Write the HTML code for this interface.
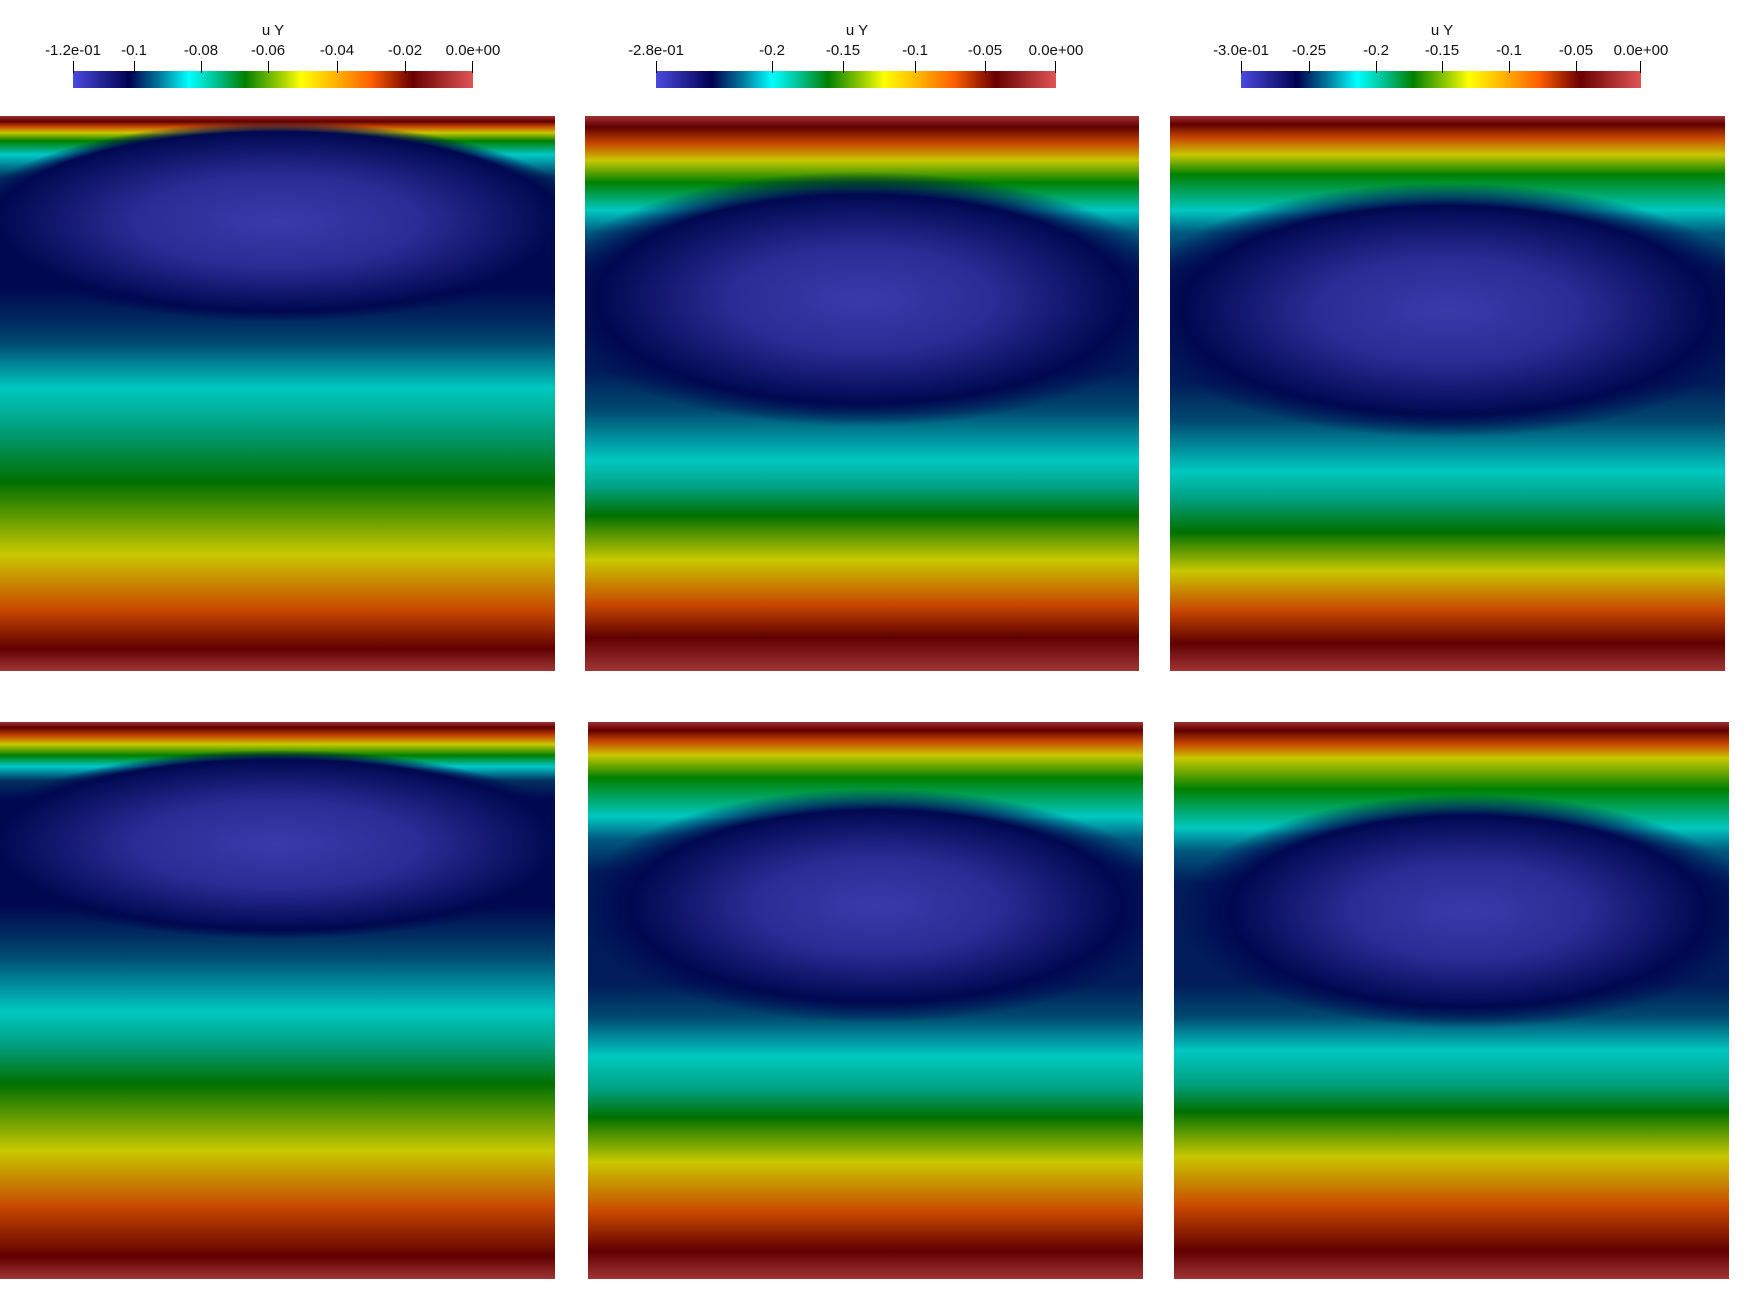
<!DOCTYPE html>
<html><head><meta charset="utf-8"><style>
html,body{margin:0;padding:0;background:#fff;}
body{width:1749px;height:1296px;position:relative;overflow:hidden;font-family:"Liberation Sans",sans-serif;}
.p{position:absolute;}
.cb{position:absolute;top:71px;height:17px;background:linear-gradient(to right,#4a4ae0 0%,#000050 14%,#0080a0 22%,#00ffff 29%,#00c8a0 35%,#008000 43%,#a0d000 52%,#ffff00 57%,#ffb000 66%,#ff6000 74.5%,#a02000 81%,#6a0000 85%,#e05555 100%);}
.t{position:absolute;font-size:15px;color:#111;transform:translateX(-50%);white-space:nowrap;}
.tk{position:absolute;top:61px;width:1px;height:12px;background:#000;}
.ov{position:absolute;inset:0;}
</style></head><body>

<div class="t" style="left:273px;top:22px">u Y</div>
<div class="cb" style="left:73px;width:400px"></div>
<div class="t" style="left:73px;top:42px">-1.2e-01</div>
<div class="t" style="left:134px;top:42px">-0.1</div>
<div class="t" style="left:201px;top:42px">-0.08</div>
<div class="t" style="left:268px;top:42px">-0.06</div>
<div class="t" style="left:337px;top:42px">-0.04</div>
<div class="t" style="left:405px;top:42px">-0.02</div>
<div class="t" style="left:473px;top:42px">0.0e+00</div>
<div class="tk" style="left:73px"></div><div class="tk" style="left:134px"></div><div class="tk" style="left:201px"></div><div class="tk" style="left:268px"></div><div class="tk" style="left:337px"></div><div class="tk" style="left:405px"></div><div class="tk" style="left:472px"></div>

<div class="t" style="left:857px;top:22px">u Y</div>
<div class="cb" style="left:656px;width:400px"></div>
<div class="t" style="left:656px;top:42px">-2.8e-01</div>
<div class="t" style="left:772px;top:42px">-0.2</div>
<div class="t" style="left:843px;top:42px">-0.15</div>
<div class="t" style="left:915px;top:42px">-0.1</div>
<div class="t" style="left:985px;top:42px">-0.05</div>
<div class="t" style="left:1056px;top:42px">0.0e+00</div>
<div class="tk" style="left:656px"></div><div class="tk" style="left:772px"></div><div class="tk" style="left:843px"></div><div class="tk" style="left:915px"></div><div class="tk" style="left:985px"></div><div class="tk" style="left:1055px"></div>

<div class="t" style="left:1442px;top:22px">u Y</div>
<div class="cb" style="left:1241px;width:400px"></div>
<div class="t" style="left:1241px;top:42px">-3.0e-01</div>
<div class="t" style="left:1309px;top:42px">-0.25</div>
<div class="t" style="left:1376px;top:42px">-0.2</div>
<div class="t" style="left:1442px;top:42px">-0.15</div>
<div class="t" style="left:1509px;top:42px">-0.1</div>
<div class="t" style="left:1576px;top:42px">-0.05</div>
<div class="t" style="left:1641px;top:42px">0.0e+00</div>
<div class="tk" style="left:1241px"></div><div class="tk" style="left:1309px"></div><div class="tk" style="left:1376px"></div><div class="tk" style="left:1442px"></div><div class="tk" style="left:1509px"></div><div class="tk" style="left:1576px"></div><div class="tk" style="left:1640px"></div>

<!-- TL -->
<div class="p" style="left:0;top:116px;width:555px;height:555px;background:linear-gradient(to bottom,#a03030 0%,#600000 1%,#d05000 2%,#c8c800 3%,#008000 4.5%,#00c8c8 7%,#003060 11%,#000850 16%,#000850 31%,#002a60 37%,#004a70 41%,#00c8c0 49%,#00a080 56%,#007000 66%,#c8c800 79%,#c84800 89%,#600000 96%,#a03535 100%);">
<div class="ov" style="background:radial-gradient(ellipse 56% 18% at 50% 19%,#3a3aaa 0%,#2c2c96 45%,#000850 90%,rgba(0,8,80,0) 100%);"></div></div>

<!-- TM -->
<div class="p" style="left:585px;top:116px;width:554px;height:555px;background:linear-gradient(to bottom,#a03030 0%,#600000 2%,#c84800 5%,#c8c800 8%,#008000 12%,#00c8c0 17%,#005a80 21%,#001c5a 28%,#001c5a 46%,#004a70 53%,#00c8c0 62%,#00a080 67%,#007000 72%,#c8c800 80%,#c84800 88%,#600000 94%,#a03535 100%);">
<div class="ov" style="background:radial-gradient(ellipse 58% 23% at 50% 33%,#3a3aaa 0%,#2c2c96 40%,#000850 82%,rgba(0,8,80,0) 100%);"></div></div>

<!-- TR -->
<div class="p" style="left:1170px;top:116px;width:555px;height:555px;background:linear-gradient(to bottom,#a03030 0%,#600000 1.5%,#c84800 4%,#c8c800 7%,#008000 10.5%,#00c8c0 17%,#005a80 21%,#001c5a 28%,#001c5a 48%,#004a70 55%,#00c8c0 64%,#00a080 69%,#007000 75%,#c8c800 82%,#c84800 89%,#600000 95%,#a03535 100%);">
<div class="ov" style="background:radial-gradient(ellipse 58% 23% at 50% 35%,#3a3aaa 0%,#2c2c96 40%,#000850 82%,rgba(0,8,80,0) 100%);"></div></div>

<!-- BL -->
<div class="p" style="left:0;top:722px;width:555px;height:557px;background:linear-gradient(to bottom,#a03030 0%,#600000 1%,#c84800 2.5%,#c8c800 4%,#008000 6%,#00c8c8 8%,#003060 10.5%,#000850 14%,#000850 33%,#002a60 38%,#004a70 42%,#00c8c0 52%,#00a080 58%,#007000 65%,#c8c800 77%,#c84800 87%,#600000 96%,#a03535 100%);">
<div class="ov" style="background:radial-gradient(ellipse 56% 17% at 50% 22%,#3a3aaa 0%,#2c2c96 45%,#000850 90%,rgba(0,8,80,0) 100%);"></div></div>

<!-- BM -->
<div class="p" style="left:588px;top:722px;width:555px;height:557px;background:linear-gradient(to bottom,#a03030 0%,#600000 1.5%,#c84800 3.5%,#c8c800 6%,#008000 10%,#00c8c0 17%,#005a80 21%,#001c5a 27%,#001c5a 47%,#004a70 53%,#00c8c0 60%,#00a080 66%,#007000 71%,#c8c800 79%,#c84800 88%,#600000 95%,#a03535 100%);">
<div class="ov" style="background:radial-gradient(ellipse 54% 21% at 52% 33%,#3a3aaa 0%,#2c2c96 40%,#000850 82%,rgba(0,8,80,0) 100%);"></div></div>

<!-- BR -->
<div class="p" style="left:1174px;top:722px;width:555px;height:557px;background:linear-gradient(to bottom,#a03030 0%,#600000 1.5%,#c84800 4%,#c8c800 6.5%,#008000 12%,#00c8c0 19%,#005a80 23%,#001c5a 29%,#001c5a 47%,#004a70 53%,#00c8c0 59%,#00a080 65%,#007000 70%,#c8c800 78%,#c84800 87%,#600000 95%,#a03535 100%);">
<div class="ov" style="background:radial-gradient(ellipse 52% 21% at 53% 34%,#3a3aaa 0%,#2c2c96 40%,#000850 82%,rgba(0,8,80,0) 100%);"></div></div>

</body></html>
